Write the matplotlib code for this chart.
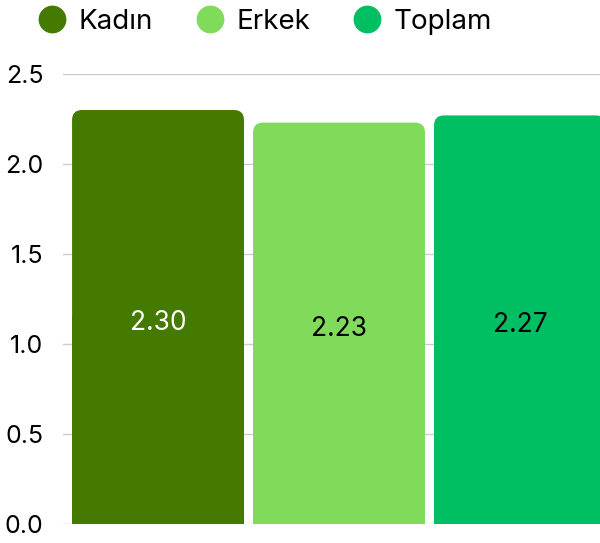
import numpy as np
import matplotlib
matplotlib.use('Agg')
import matplotlib.pyplot as plt
from matplotlib.patches import FancyBboxPatch
from matplotlib.lines import Line2D

plt.rcParams['font.family'] = ['Inter', 'DejaVu Sans']

# data
groups = ['Kadın', 'Erkek', 'Toplam']
values = [2.30, 2.23, 2.27]
colors = ['#457a00', '#80db5a', '#00bf63']
label_colors = ['white', 'black', 'black']
yticks = [0.0, 0.5, 1.0, 1.5, 2.0, 2.5]

fig = plt.figure(figsize=(6.0, 5.43), dpi=100)
ax = fig.add_axes([0.105, 0.035, 0.92, 0.8287])

x = np.arange(len(groups))
bars = ax.bar(x, values, width=0.95, color=colors, zorder=2)

# swap plain bars for ones with rounded top corners
r = 0.055
for b, c in zip(bars, colors):
    bx, by = b.get_x(), b.get_y()
    bw, bh = b.get_width(), b.get_height()
    b.set_visible(False)
    ax.add_patch(FancyBboxPatch((bx, by), bw, bh,
                                boxstyle='round,pad=0,rounding_size=%f' % r,
                                fc=c, ec='none', zorder=2))
    ax.add_patch(plt.Rectangle((bx, by), bw, bh / 2, fc=c, ec='none', zorder=2))

for xi, v, lc in zip(x, values, label_colors):
    ax.annotate('%.2f' % v, (xi, v / 2), xytext=(0, -4), textcoords='offset points',
                ha='center', va='center', color=lc, fontsize=19, zorder=3)

ax.set_xlim(-0.525, 2.525)
ax.set_ylim(0, 2.5)
ax.set_yticks(yticks)
ax.set_yticklabels(['%.1f' % t for t in yticks])
ax.set_xticks([])
ax.tick_params(axis='y', length=0, pad=14, labelsize=18)
ax.grid(axis='y', color='#cccccc', linewidth=1, zorder=0)
for s in ['top', 'right', 'bottom', 'left']:
    ax.spines[s].set_visible(False)

handles = [Line2D([], [], marker='o', linestyle='none', markersize=19,
                  markerfacecolor=c, markeredgecolor=c) for c in colors]
fig.legend(handles, groups, loc='upper left', bbox_to_anchor=(0.02, 1.03),
           ncol=3, frameon=False, fontsize=20, handletextpad=0.4,
           columnspacing=1.5, handlelength=1.1)

fig.savefig('out.png', dpi=100)
